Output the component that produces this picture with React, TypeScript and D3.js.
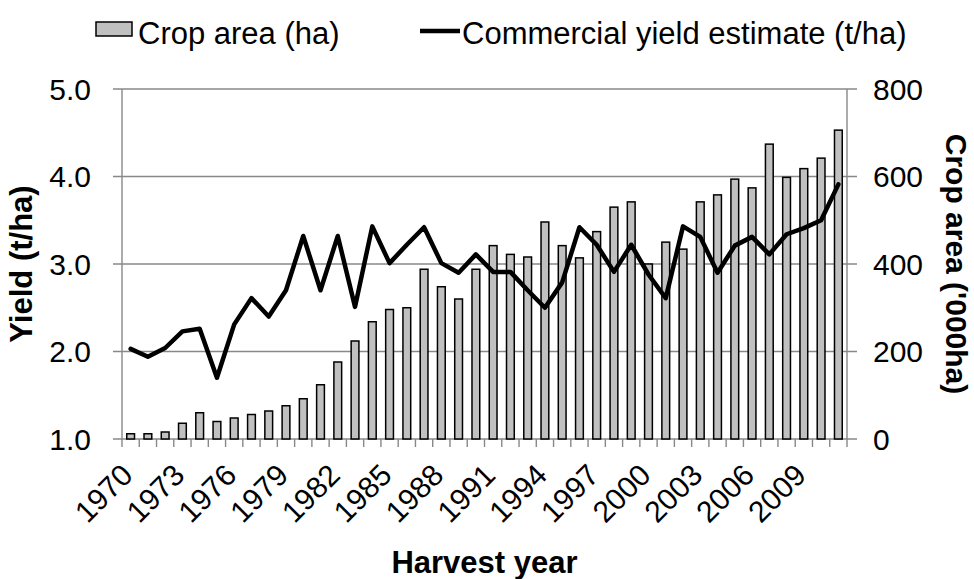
import React from 'react';
import * as d3 from 'd3';

// harvest years (categories)
const years: number[] = [
  1970, 1971, 1972, 1973, 1974, 1975, 1976, 1977, 1978, 1979,
  1980, 1981, 1982, 1983, 1984, 1985, 1986, 1987, 1988, 1989,
  1990, 1991, 1992, 1993, 1994, 1995, 1996, 1997, 1998, 1999,
  2000, 2001, 2002, 2003, 2004, 2005, 2006, 2007, 2008, 2009,
  2010, 2011,
];

// crop area, '000 ha (bars, right axis)
const cropArea: number[] = [
  12, 12, 16, 36, 60, 40, 48, 56, 64, 76,
  92, 124, 176, 224, 268, 296, 300, 388, 348, 320,
  388, 442, 422, 416, 496, 442, 414, 474, 530, 542,
  400, 450, 434, 542, 558, 594, 574, 674, 598, 618,
  642, 706,
];

// commercial yield estimate, t/ha (line, left axis)
const yieldEst: number[] = [
  2.03, 1.94, 2.04, 2.23, 2.26, 1.70, 2.31, 2.61, 2.40, 2.70,
  3.32, 2.70, 3.32, 2.51, 3.43, 3.01, 3.22, 3.42, 3.01, 2.90,
  3.11, 2.91, 2.91, 2.70, 2.50, 2.79, 3.42, 3.22, 2.91, 3.22,
  2.88, 2.61, 3.43, 3.31, 2.90, 3.21, 3.31, 3.11, 3.34, 3.41,
  3.50, 3.91,
];

const leftTicks: number[] = [1.0, 2.0, 3.0, 4.0, 5.0];
const rightTicks: number[] = [0, 200, 400, 600, 800];
const labelYears: number[] = [1970, 1973, 1976, 1979, 1982, 1985, 1988, 1991, 1994, 1997, 2000, 2003, 2006, 2009];

const W = 974;
const H = 579;
const plot = { left: 122, right: 847, top: 89, bottom: 439 };
const font = '"Liberation Sans", Arial, sans-serif';
const gridColor = '#888888';

const App: React.FC = () => {
  const x = d3.scaleBand<number>()
    .domain(years)
    .range([plot.left, plot.right])
    .paddingInner(0.55)
    .paddingOuter(0.275);
  const yLeft = d3.scaleLinear().domain([1, 5]).range([plot.bottom, plot.top]);
  const yRight = d3.scaleLinear().domain([0, 800]).range([plot.bottom, plot.top]);

  const step = x.step();
  const cx = (yr: number) => (x(yr) ?? 0) + x.bandwidth() / 2;

  const linePath = d3.line<number>()
    .x((_, i) => cx(years[i]))
    .y(d => yLeft(d))(yieldEst) ?? '';

  // category boundaries for x-axis tick marks
  const boundaries = d3.range(years.length + 1).map(i => plot.left + i * step);

  return (
    <svg width={W} height={H} style={{ position: 'absolute', left: 0, top: 0, background: '#fff' }} fontFamily={font}>
      {/* gridlines + outer ticks */}
      {leftTicks.map(t => (
        <line key={'g' + t} x1={plot.left - 9} x2={plot.right + 10} y1={yLeft(t)} y2={yLeft(t)}
          stroke={gridColor} strokeWidth={1.4} />
      ))}
      {/* axes */}
      <line x1={plot.left} x2={plot.left} y1={plot.top} y2={plot.bottom} stroke={gridColor} strokeWidth={1.4} />
      <line x1={plot.right} x2={plot.right} y1={plot.top} y2={plot.bottom} stroke={gridColor} strokeWidth={1.4} />
      {boundaries.map((bx, i) => (
        <line key={'t' + i} x1={bx} x2={bx} y1={plot.bottom} y2={plot.bottom + 8} stroke={gridColor} strokeWidth={1.4} />
      ))}

      {/* bars */}
      {years.map((yr, i) => (
        <rect key={'b' + yr} x={x(yr)} y={yRight(cropArea[i])} width={x.bandwidth()}
          height={plot.bottom - yRight(cropArea[i])} fill="#c0c0c0" stroke="#000" strokeWidth={1.5} />
      ))}

      {/* yield line */}
      <path d={linePath} fill="none" stroke="#000" strokeWidth={4.5} strokeLinejoin="round" strokeLinecap="round" />

      {/* left tick labels */}
      {leftTicks.map(t => (
        <text key={'l' + t} x={91} y={yLeft(t)} dy="0.36em" textAnchor="end" fontSize={30} fill="#000">
          {d3.format('.1f')(t)}
        </text>
      ))}
      {/* right tick labels */}
      {rightTicks.map(t => (
        <text key={'r' + t} x={873} y={yRight(t)} dy="0.36em" textAnchor="start" fontSize={30} fill="#000">
          {t}
        </text>
      ))}
      {/* x tick labels */}
      {labelYears.map(yr => (
        <text key={'x' + yr} transform={`translate(${cx(yr) + 4},${477}) rotate(-45)`} textAnchor="end"
          fontSize={30} fill="#000">
          {yr}
        </text>
      ))}

      {/* axis titles */}
      <text x={(plot.left + plot.right) / 2} y={573} textAnchor="middle" fontSize={31} fontWeight="bold">Harvest year</text>
      <text transform={`translate(32,${(plot.top + plot.bottom) / 2}) rotate(-90)`} textAnchor="middle" fontSize={31}
        fontWeight="bold">Yield (t/ha)</text>
      <text transform={`translate(946,${(plot.top + plot.bottom) / 2}) rotate(90)`} textAnchor="middle" fontSize={30}
        fontWeight="bold">Crop area ('000ha)</text>

      {/* legend */}
      <rect x={96} y={22} width={36} height={14} fill="#c0c0c0" stroke="#000" strokeWidth={1.5} />
      <text x={138} y={44} fontSize={31}>Crop area (ha)</text>
      <line x1={420} x2={460} y1={31} y2={31} stroke="#000" strokeWidth={4.5} />
      <text x={462} y={44} fontSize={31}>Commercial yield estimate (t/ha)</text>
    </svg>
  );
};

export default App;
